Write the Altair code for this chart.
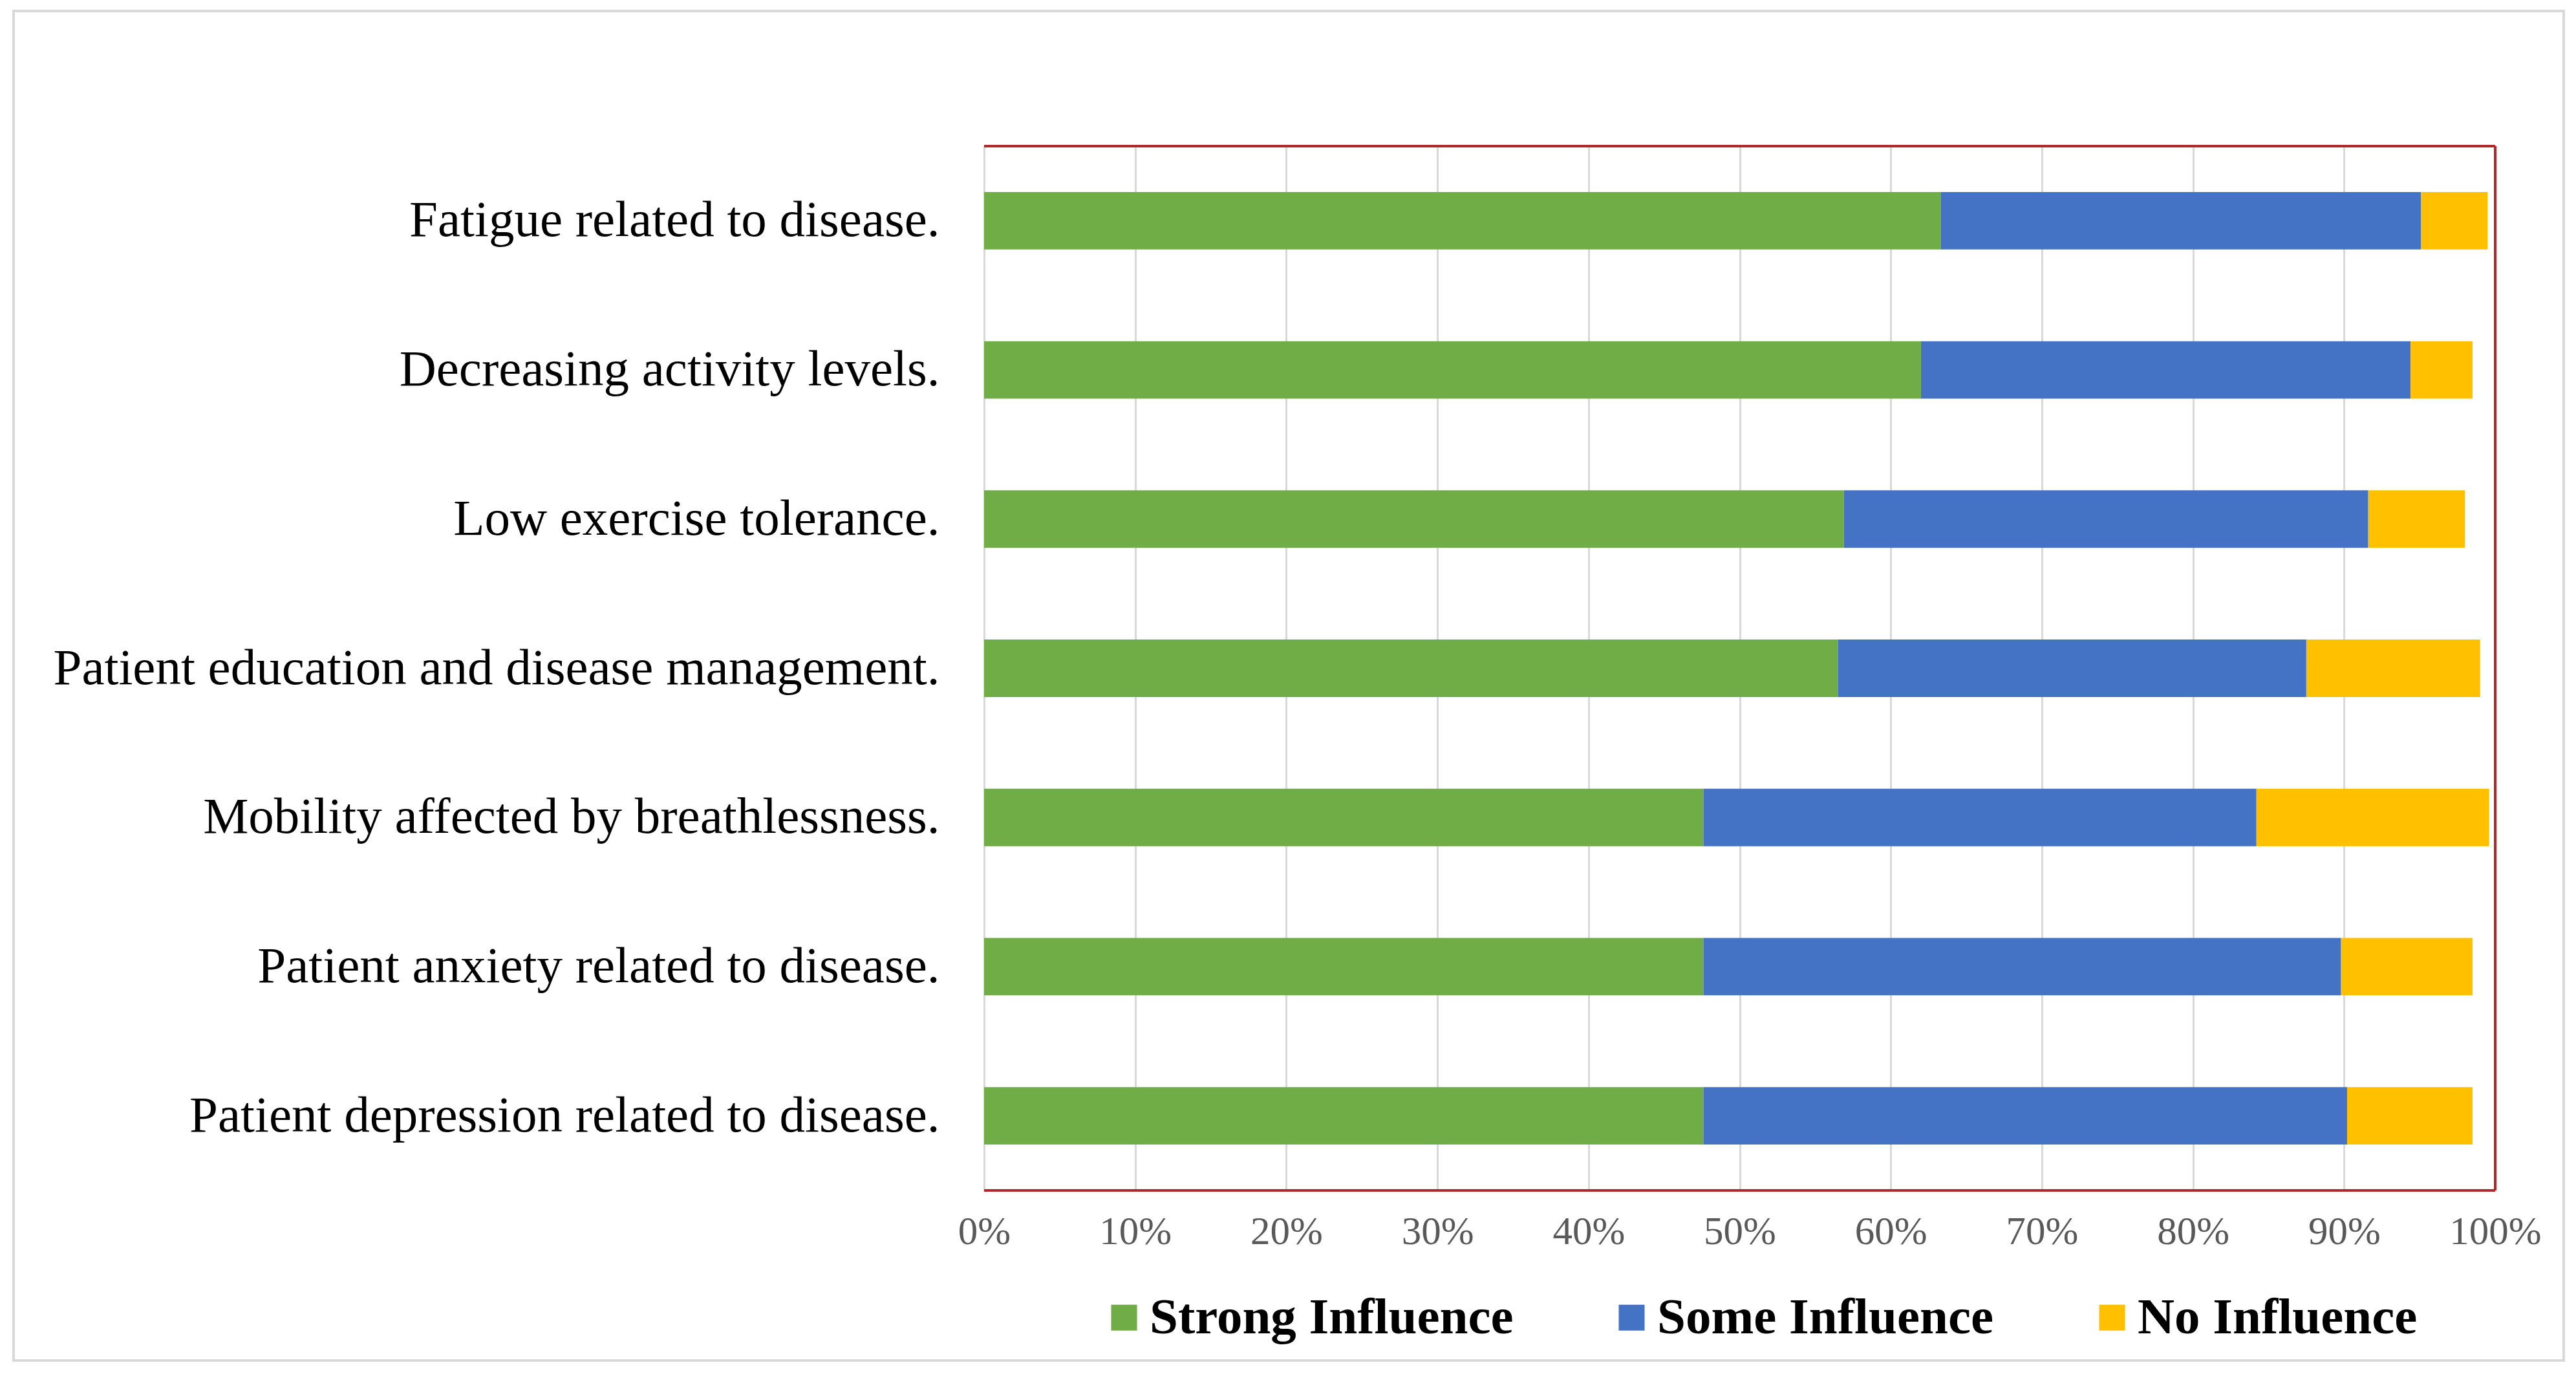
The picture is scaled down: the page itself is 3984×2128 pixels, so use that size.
import altair as alt
import pandas as pd

categories = [
    "Fatigue related to disease.",
    "Decreasing activity levels.",
    "Low exercise tolerance.",
    "Patient education and disease management.",
    "Mobility affected by breathlessness.",
    "Patient anxiety related to disease.",
    "Patient depression related to disease.",
]
series = ["Strong Influence", "Some Influence", "No Influence"]
strong = [63.3, 62.0, 56.9, 56.5, 47.6, 47.6, 47.6]
some = [31.8, 32.4, 34.7, 31.0, 36.6, 42.2, 42.6]
no_inf = [4.4, 4.1, 6.4, 11.5, 15.4, 8.7, 8.3]
colors = ["#70AD47", "#4472C4", "#FFC000"]
tick_values = [0, 0.1, 0.2, 0.3, 0.4, 0.5, 0.6, 0.7, 0.8, 0.9, 1.0]

rows = []
for i, c in enumerate(categories):
    for j, (s, vals) in enumerate(zip(series, [strong, some, no_inf])):
        rows.append({"category": c, "series": s, "order": j, "value": vals[i] / 100})
df = pd.DataFrame(rows)

W, H = 2337, 1615
FONT = "Liberation Serif"

bars = alt.Chart(df).mark_bar().encode(
    y=alt.Y("category:N", sort=categories, title=None,
            scale=alt.Scale(paddingInner=0.615, paddingOuter=0.3075),
            axis=alt.Axis(domain=False, ticks=False, labelFont=FONT, labelFontSize=79,
                          labelColor="#000000", labelPadding=69, labelLimit=3000)),
    x=alt.X("value:Q", stack="zero", title=None,
            scale=alt.Scale(domain=[0, 1], nice=False),
            axis=alt.Axis(values=tick_values, format="%", domain=False, ticks=False,
                          grid=True, gridColor="#D9D9D9", gridWidth=3,
                          labelFont=FONT, labelFontSize=61, labelColor="#595959",
                          labelPadding=34, labelFlush=False)),
    color=alt.Color("series:N", sort=series,
                    scale=alt.Scale(domain=series, range=colors),
                    legend=alt.Legend(title=None, orient="none", direction="horizontal",
                                      legendX=177, legendY=1772, symbolType="square",
                                      symbolSize=1600, symbolStrokeWidth=0,
                                      labelFont=FONT, labelFontWeight="bold",
                                      labelFontSize=79, labelColor="#000000",
                                      labelOffset=0, columnPadding=143,
                                      labelLimit=2000, padding=0)),
    order=alt.Order("order:Q"),
)

one = alt.Data(values=[{"k": 1}])
border_col = "#B0282C"
top_rule = alt.Chart(one).mark_rule(color=border_col, strokeWidth=4).encode(
    x=alt.value(0), x2=alt.value(W), y=alt.value(0))
bottom_rule = alt.Chart(one).mark_rule(color=border_col, strokeWidth=4).encode(
    x=alt.value(0), x2=alt.value(W), y=alt.value(H))
right_rule = alt.Chart(one).mark_rule(color=border_col, strokeWidth=4).encode(
    x=alt.value(W), y=alt.value(0), y2=alt.value(H))
frame = alt.Chart(one).mark_rect(fill=None, fillOpacity=0, stroke="#D9D9D9", strokeWidth=4).encode(
    x=alt.value(-1501), x2=alt.value(2443), y=alt.value(-209), y2=alt.value(1878))

chart = alt.layer(frame, bars, top_rule, bottom_rule, right_rule).properties(
    width=W, height=H,
    autosize=alt.AutoSizeParams(type="none"),
    padding={"left": 1514, "top": 218, "right": 110, "bottom": 265},
    background="white",
).configure_view(stroke=None)

chart.save("out.html", embed_options={"renderer": "svg", "actions": False})
